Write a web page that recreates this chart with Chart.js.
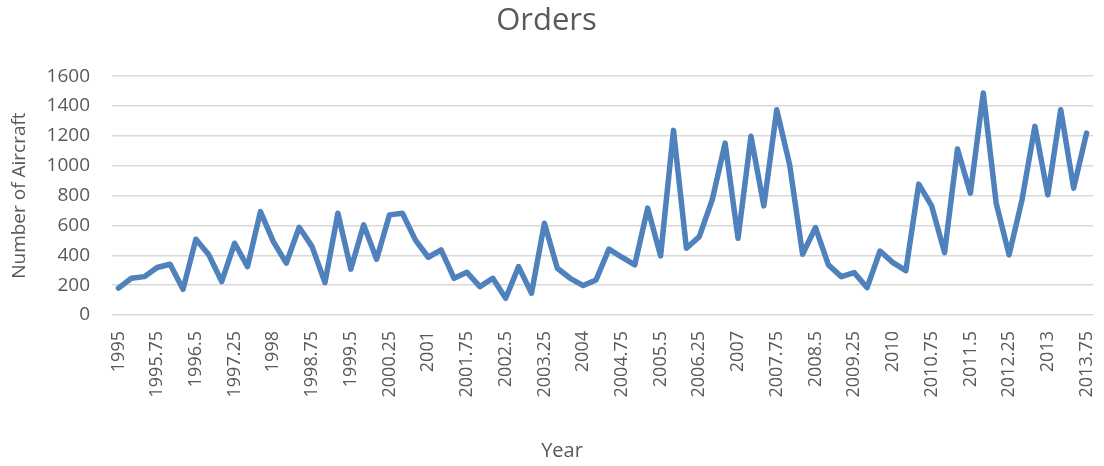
<!DOCTYPE html>
<html lang="en">
  <head>
    <meta charset="UTF-8" />
    <title>Orders</title>
    <script src="https://cdn.jsdelivr.net/npm/chart.js"></script>
    <style>
      html, body { margin: 0; padding: 0; background: #fff; }
      #wrap { width: 1104px; height: 466px; }
    </style>
  </head>
  <body>
    <div id="wrap"><canvas id="ordersChart"></canvas></div>

    <script>
      // quarterly labels, 1995 .. 2013.75
      const years = [
        "1995", "1995.25", "1995.5", "1995.75", "1996", "1996.25", "1996.5", "1996.75",
        "1997", "1997.25", "1997.5", "1997.75", "1998", "1998.25", "1998.5", "1998.75",
        "1999", "1999.25", "1999.5", "1999.75", "2000", "2000.25", "2000.5", "2000.75",
        "2001", "2001.25", "2001.5", "2001.75", "2002", "2002.25", "2002.5", "2002.75",
        "2003", "2003.25", "2003.5", "2003.75", "2004", "2004.25", "2004.5", "2004.75",
        "2005", "2005.25", "2005.5", "2005.75", "2006", "2006.25", "2006.5", "2006.75",
        "2007", "2007.25", "2007.5", "2007.75", "2008", "2008.25", "2008.5", "2008.75",
        "2009", "2009.25", "2009.5", "2009.75", "2010", "2010.25", "2010.5", "2010.75",
        "2011", "2011.25", "2011.5", "2011.75", "2012", "2012.25", "2012.5", "2012.75",
        "2013", "2013.25", "2013.5", "2013.75"
      ];

      // aircraft ordered per quarter
      const orders = [
        180, 246, 257, 318, 340, 172, 508, 403,
        224, 481, 324, 693, 492, 347, 588, 458,
        217, 682, 307, 604, 374, 671, 682, 503,
        387, 436, 246, 286, 190, 246, 112, 324,
        146, 615, 313, 246, 197, 235, 441, 387,
        336, 716, 396, 1237, 447, 525, 772, 1152,
        514, 1197, 731, 1375, 1006, 407, 586, 336,
        257, 284, 183, 429, 351, 297, 877, 731,
        418, 1112, 816, 1487, 749, 403, 772, 1264,
        805, 1375, 850, 1219
      ];

      const yTicks = [0, 200, 400, 600, 800, 1000, 1200, 1400, 1600];

      const textColor = "#595959";
      const fontFamily = "'Open Sans', sans-serif";

      // x axis title sits a little left of the plot centre
      const yearTitle = {
        id: "yearTitle",
        afterDraw: function (chart) {
          const c = chart.ctx;
          c.save();
          c.fillStyle = textColor;
          c.font = "20px " + fontFamily;
          c.textAlign = "center";
          c.textBaseline = "middle";
          c.fillText("Year", 562, 451);
          c.restore();
        },
      };

      const ctx = document.getElementById("ordersChart").getContext("2d");
      const ordersChart = new Chart(ctx, {
        type: "line",
        data: {
          labels: years,
          datasets: [
            {
              label: "Orders",
              data: orders,
              borderColor: "#4f81bd",
              borderWidth: 5.5,
              borderJoinStyle: "round",
              borderCapStyle: "round",
              pointRadius: 0,
              tension: 0,
              fill: false,
            },
          ],
        },
        plugins: [yearTitle],
        options: {
          responsive: true,
          maintainAspectRatio: false,
          animation: false,
          layout: { padding: { left: 0, right: 11, top: 0, bottom: 0 } },
          plugins: {
            legend: { display: false },
            tooltip: { enabled: false },
            title: {
              display: true,
              text: "Orders",
              color: textColor,
              font: { family: fontFamily, size: 31, weight: "normal" },
              padding: { top: 3, bottom: 36 },
            },
          },
          scales: {
            x: {
              offset: true,
              grid: { display: false, drawTicks: false },
              border: { display: false },
              afterFit: function (scale) {
                scale.height = 151;
                scale.paddingLeft = 0;
                scale.paddingRight = 0;
              },
              ticks: {
                autoSkip: false,
                minRotation: 90,
                maxRotation: 90,
                padding: 16,
                color: textColor,
                font: { family: fontFamily, size: 18 },
                callback: function (value, index) {
                  return index % 3 === 0 ? years[index] : null;
                },
              },
            },
            y: {
              min: yTicks[0],
              max: yTicks[yTicks.length - 1],
              grid: { color: "#d9d9d9", lineWidth: 1.5, drawTicks: false },
              border: { display: false },
              afterBuildTicks: function (scale) {
                scale.ticks = yTicks.map(function (v) { return { value: v }; });
              },
              afterFit: function (scale) {
                scale.width = 112;
              },
              ticks: {
                color: textColor,
                font: { family: fontFamily, size: 19 },
                padding: 22,
                callback: function (value) {
                  return String(value);
                },
              },
              title: {
                display: true,
                text: "Number of Aircraft",
                color: textColor,
                font: { family: fontFamily, size: 19 },
                padding: { top: 8, bottom: 0 },
              },
            },
          },
        },
      });
    </script>
  </body>
</html>
